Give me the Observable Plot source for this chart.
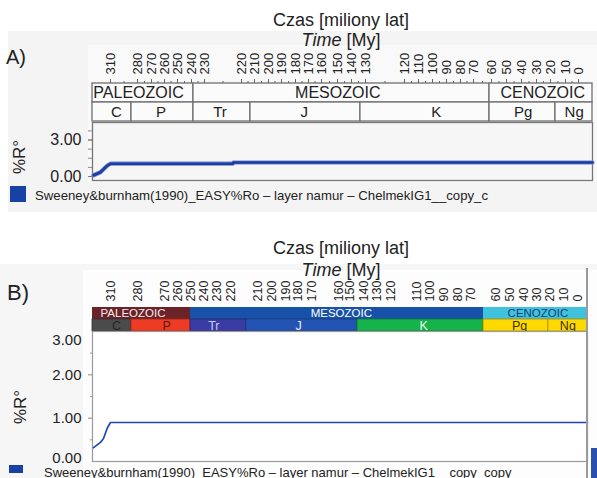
<!DOCTYPE html>
<html><head><meta charset="utf-8">
<script src="https://cdn.jsdelivr.net/npm/d3@7"></script>
<script src="https://cdn.jsdelivr.net/npm/@observablehq/plot@0.6"></script>
<style>
body{margin:0;background:#fff;font-family:"Liberation Sans",Arial,sans-serif;color:#222;}
#root{position:relative;width:597px;height:478px;overflow:hidden;}
.abs{position:absolute;}
.ttl{position:absolute;left:191px;width:300px;text-align:center;font-size:18px;line-height:20px;white-space:nowrap;}
.leg{position:absolute;line-height:13px;white-space:nowrap;}
.ylab{position:absolute;width:60px;height:20px;line-height:20px;text-align:center;font-size:17px;transform:rotate(-90deg);white-space:nowrap;}
svg{position:absolute;left:0;overflow:visible;}
</style></head><body><div id="root"></div>
<script>
// ---------- data ----------
const tickAges = [310,280,270,260,250,240,230,220,210,200,190,180,170,160,150,140,130,120,110,100,90,80,70,60,50,40,30,20,10,0];
const eras = ["PALEOZOIC","MESOZOIC","CENOZOIC"];
const periods = ["C","P","Tr","J","K","Pg","Ng"];
const eraBoundsA = [320, 238.5, 61.1, -10];
const periodBoundsA = [320, 286.7, 238.5, 213.1, 133.6, 61.1, 16.7, -10];
const eraBoundsB = [320, 250, 64.8, -7];
const periodBoundsB = [320, 286.7, 250, 214.1, 144.3, 64.8, 20.8, -7];
const curveAgeA = [319.4, 315.6, 311.7, 310, 222.3, 222.2, -10];
const curveRoA  = [0.1, 0.35, 0.9, 1.05, 1.05, 1.15, 1.15];
const curveAgeB = [319.4, 315.6, 313.9, 311.7, 310, -7];
const curveRoB  = [0.32, 0.44, 0.53, 0.78, 0.9, 0.9];
const yTicksA = [0, 3];
const yMinorA = [0, 0.75, 1.5, 2.25, 3, 3.75];
const yTicksB = [0, 1, 2, 3];
const yMinorB = [0.5, 1.5, 2.5];
const eraColors = ["#6b2228","#1752a8","#40c2de"];
const eraTextColors = ["#f6eeee","#ffffff","#1c3c6c"];
const periodColors = ["#4b4b4b","#ee3b24","#3b3ca3","#2354b4","#16b24c","#fed900","#fed900"];
const periodTextColors = ["#262626","#5a1a10","#c9c9f2","#e6ecff","#e8ffe8","#3a3000","#3a3000"];
const legendLabelA = "Sweeney&burnham(1990)_EASY%Ro – layer namur – ChelmekIG1__copy_c";
const legendLabelB = "Sweeney&burnham(1990)_EASY%Ro – layer namur – ChelmekIG1__copy_copy";
const titlePL = "Czas [miliony lat]";
const yLabel = "%R°";

// ---------- layout: nonlinear time axis (knot ages -> pixel positions) ----------
const FONT = "Liberation Sans, Arial, sans-serif";
const xDomainA = [320, ...tickAges, -10];
const xRangeA  = [92,110,137,151,164,177,191,204,241,254,268,281,295,308,321,337,351,365,404,418,432,446,460,473,491,506,521,536,550,565,578,592];
const xDomainB = [320, ...tickAges, -7];
const xRangeB  = [92,110,137,164,177,190,203,216,230,257,271,285,297,311,338,349,363,376,390,416,429,443,457,470,495,509,523,536,549,563,577,587];
const warpA = d3.scaleLinear().domain(xDomainA).range(xRangeA);
const warpB = d3.scaleLinear().domain(xDomainB).range(xRangeB);
const xScaleA = {transform: warpA, domain: [xRangeA[0], xRangeA[xRangeA.length - 1]], axis: null, label: null};
const xScaleB = {transform: warpB, domain: [xRangeB[0], xRangeB[xRangeB.length - 1]], axis: null, label: null};

const rows = (names, b, row) => names.map((name, i) => ({name, i, row, x1: b[i], x2: b[i+1], mid: (b[i] + b[i+1]) / 2}));
const root = document.getElementById("root");
function place(el, top) { el.style.top = top + "px"; root.appendChild(el); }
function div(cls, css, html) { const d = document.createElement("div"); d.className = cls; d.style.cssText = css; if (html != null) d.textContent = html; root.appendChild(d); return d; }

// backgrounds
div("abs", "left:8px;top:31px;width:589px;height:181px;background:#f4f4f4;");
div("abs", "left:88px;top:45px;width:509px;height:137px;background:#f9f9f9;");
div("abs", "left:0px;top:264px;width:597px;height:214px;background:#f6f6f6;");
div("abs", "left:83px;top:270px;width:514px;height:208px;background:#fdfdfd;");

// titles
div("ttl", "top:10px;", titlePL);
div("ttl", "top:30px;").innerHTML = "<i>Time</i> [My]";
div("ttl", "top:238px;", titlePL);
div("ttl", "top:260px;").innerHTML = "<i>Time</i> [My]";
div("abs", "left:6px;top:47px;font-size:20px;line-height:20px;", "A)");
div("abs", "left:7px;top:282px;font-size:22px;line-height:22px;", "B)");

// ---------- panel A ----------
const eraA = rows(eras, eraBoundsA, "era");
const perA = rows(periods, periodBoundsA, "period");
const minorX = tickAges.concat(d3.pairs(tickAges, (a, b) => (a + b) / 2));

const headA = Plot.plot({
  width: 597, height: 76, marginTop: 37, marginBottom: 0, marginLeft: 92, marginRight: 5,
  x: xScaleA,
  y: {domain: ["era","period"], padding: 0, axis: null, label: null},
  style: {background: "transparent", fontFamily: FONT, fontSize: "13px", color: "#222"},
  marks: [
    Plot.barX(eraA, {x1: "x1", x2: "x2", y: "row", fill: "#fbfbfb", stroke: "#6f6f6f", strokeWidth: 1.3}),
    Plot.barX(perA, {x1: "x1", x2: "x2", y: "row", fill: "#fbfbfb", stroke: "#6f6f6f", strokeWidth: 1.3}),
    Plot.text(eraA, {x: "mid", y: "row", text: "name", fontSize: 16, fill: "#222"}),
    Plot.text(perA, {x: "mid", y: "row", text: "name", fontSize: 15, fill: "#222"}),
    Plot.axisX(minorX, {anchor: "top", tickSize: 2, tickFormat: () => "", stroke: "#666", label: null}),
    Plot.axisX(tickAges, {anchor: "top", tickSize: 4, tickPadding: 4, tickRotate: -90, fontSize: 13, tickFormat: d => String(d), stroke: "#666", fill: "#222", label: null})
  ]
});
place(headA, 45);

const curveA = curveAgeA.map((age, i) => ({age, ro: curveRoA[i]}));
const plotA = Plot.plot({
  width: 597, height: 61, marginTop: 1, marginBottom: 2, marginLeft: 92, marginRight: 5,
  x: xScaleA,
  y: {domain: [-0.33, 4.44], axis: null, label: null},
  style: {background: "transparent", fontFamily: FONT, fontSize: "13px", color: "#222"},
  marks: [
    Plot.frame({fill: "#f6f6f6", stroke: "#777", strokeWidth: 1.3}),
    Plot.axisY(yMinorA, {tickSize: 4, tickFormat: () => "", stroke: "#888", label: null}),
    Plot.axisY(yTicksA, {tickSize: 4, tickPadding: 7, fontSize: 16, tickFormat: d => d.toFixed(2), stroke: "#777", fill: "#222", label: null}),
    Plot.line(curveA, {x: "age", y: "ro", stroke: "#6d86c9", strokeWidth: 4.2, strokeLinejoin: "round"}),
    Plot.line(curveA, {x: "age", y: "ro", stroke: "#1d3ea0", strokeWidth: 2.6, strokeLinejoin: "round"})
  ]
});
place(plotA, 121);
div("ylab", "left:-10px;top:147px;", yLabel);

div("abs", "left:10px;top:186px;width:16px;height:16px;background:#1940a4;");
div("leg", "left:35px;top:189px;font-size:13.2px;", legendLabelA);

// ---------- panel B ----------
const eraB = rows(eras, eraBoundsB, "era");
const perB = rows(periods, periodBoundsB, "period");

const headB = Plot.plot({
  width: 597, height: 57, marginTop: 32, marginBottom: 0, marginLeft: 92, marginRight: 10,
  x: xScaleB,
  y: {domain: ["era","period"], padding: 0, axis: null, label: null},
  style: {background: "transparent", fontFamily: FONT, fontSize: "13px", color: "#222"},
  marks: [
    Plot.barX(eraB, {x1: "x1", x2: "x2", y: "row", fill: d => eraColors[d.i]}),
    Plot.barX(perB, {x1: "x1", x2: "x2", y: "row", fill: d => periodColors[d.i], stroke: d => d3.color(periodColors[d.i]).darker(1.2).formatHex(), strokeWidth: 0.8}),
    Plot.text(eraB, {x: "mid", y: "row", text: "name", fontSize: 11.5, fill: d => eraTextColors[d.i]}),
    Plot.text(perB, {x: "mid", y: "row", text: "name", fontSize: 12.5, fill: d => periodTextColors[d.i]}),
    Plot.axisX(tickAges, {anchor: "top", tickSize: 0, tickPadding: 5, tickRotate: -90, fontSize: 12.5, tickFormat: d => String(d), fill: "#222", label: null})
  ]
});
place(headB, 274);

const curveB = curveAgeB.map((age, i) => ({age, ro: curveRoB[i]}));
const plotB = Plot.plot({
  width: 597, height: 134, marginTop: 1, marginBottom: 3, marginLeft: 92, marginRight: 10,
  x: xScaleB,
  y: {domain: [0, 3], axis: null, label: null},
  style: {background: "transparent", fontFamily: FONT, fontSize: "13px", color: "#222"},
  marks: [
    Plot.frame({fill: "#ffffff", stroke: "#9a9a9a", strokeWidth: 1.2}),
    Plot.axisY(yMinorB, {tickSize: 2, tickFormat: () => "", stroke: "#999", label: null}),
    Plot.axisY(yTicksB.filter(v => v === 1 || v === 2), {tickSize: 4, tickPadding: 7, fontSize: 15, tickFormat: d => d.toFixed(2), stroke: "#888", fill: "#222", label: null}),
    Plot.axisY(yTicksB.filter(v => v === 0), {tickSize: 0, tickPadding: 11, fontSize: 15, dy: -3, tickFormat: d => d.toFixed(2), fill: "#222", label: null}),
    Plot.axisY(yTicksB.filter(v => v === 3), {tickSize: 0, tickPadding: 11, fontSize: 15, dy: 9, tickFormat: d => d.toFixed(2), fill: "#222", label: null}),
    Plot.line(curveB, {x: "age", y: "ro", stroke: "#2446b4", strokeWidth: 1.7, strokeLinejoin: "round"})
  ]
});
place(plotB, 330);
div("ylab", "left:-9px;top:397px;", yLabel);

div("abs", "left:9px;top:465px;width:14px;height:8px;background:#1940a4;");
div("leg", "left:44px;top:466px;font-size:13px;", legendLabelB);

// neighbouring-figure edge at the right of panel B
div("abs", "left:586px;top:268px;width:1.5px;height:210px;background:#9a9a9a;");
div("abs", "left:591px;top:448px;width:6px;height:30px;background:#2a4fb0;");
</script></body></html>
